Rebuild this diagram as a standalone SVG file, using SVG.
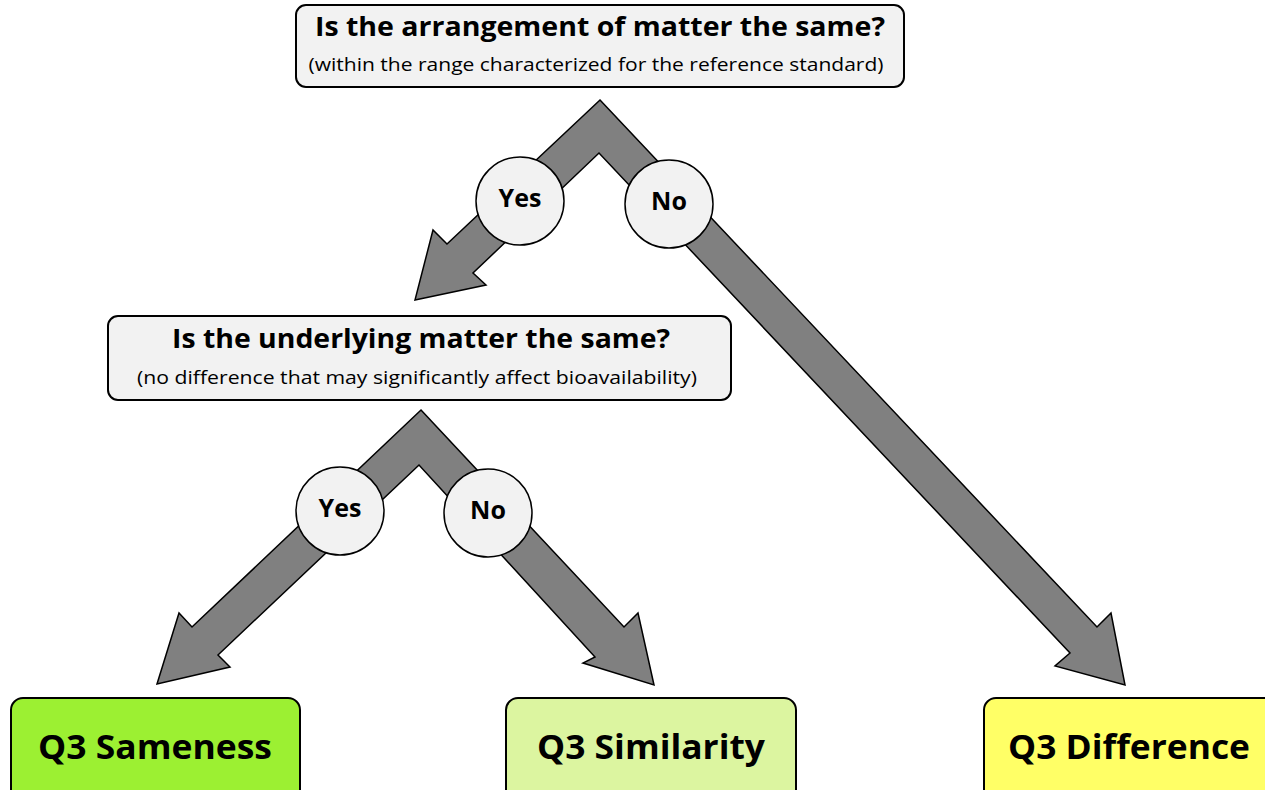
<svg xmlns="http://www.w3.org/2000/svg" width="1265" height="790" viewBox="0 0 1265 790">
<style>
.box{fill:#f2f2f2;stroke:#000;stroke-width:2}
.arrow{fill:#808080;stroke:#000;stroke-width:1.5;stroke-linejoin:miter}
.badge{fill:#f2f2f2;stroke:#000;stroke-width:1.5}
.t{font-family:"Open Sans","Liberation Sans",sans-serif;fill:#000;text-anchor:middle}
.title{font-weight:bold;font-size:27px}
.sub{font-size:19px}
.yn{font-weight:bold;font-size:25px}
.res{font-weight:bold;font-size:34px}
</style>
<rect width="1265" height="790" fill="#fff"/>
<g id="connectors">
  <polygon class="arrow" points="600,100 1097,627 1111,613 1125,685 1055,666 1070,653 599,153 473,273 486,285 415,300 433,230 447,244"/>
  <polygon class="arrow" points="421,410 624,627 638,613 654,685 583,663 595,657 419,465 218,655 230,667 157,684 179,613 192,627"/>
  <g id="label-yes-1"><circle class="badge" cx="520" cy="201" r="44"/><text class="t yn" x="520" y="207">Yes</text></g>
  <g id="label-no-1"><circle class="badge" cx="669" cy="204" r="44"/><text class="t yn" x="669" y="210">No</text></g>
  <g id="label-yes-2"><circle class="badge" cx="340" cy="511" r="44"/><text class="t yn" x="340" y="517">Yes</text></g>
  <g id="label-no-2"><circle class="badge" cx="488" cy="513" r="44"/><text class="t yn" x="488" y="519">No</text></g>
</g>
<g id="q-arrangement">
  <rect class="box" x="296" y="5" width="608" height="82" rx="10"/>
  <text class="t title" x="600" y="36" textLength="570" lengthAdjust="spacingAndGlyphs">Is the arrangement of matter the same?</text>
  <text class="t sub" x="596" y="71" textLength="575" lengthAdjust="spacingAndGlyphs">(within the range characterized for the reference standard)</text>
</g>
<g id="q-underlying">
  <rect class="box" x="108" y="316" width="623" height="84" rx="10"/>
  <text class="t title" x="421" y="348" textLength="498" lengthAdjust="spacingAndGlyphs">Is the underlying matter the same?</text>
  <text class="t sub" x="417" y="384" textLength="560" lengthAdjust="spacingAndGlyphs">(no difference that may significantly affect bioavailability)</text>
</g>
<g id="q3-sameness">
  <rect x="11" y="698" width="289" height="110" rx="12" fill="#9cf032" stroke="#000" stroke-width="2"/>
  <text class="t res" x="155" y="759" textLength="234" lengthAdjust="spacingAndGlyphs">Q3 Sameness</text>
</g>
<g id="q3-similarity">
  <rect x="506" y="698" width="290" height="110" rx="12" fill="#dcf5a0" stroke="#000" stroke-width="2"/>
  <text class="t res" x="651" y="759" textLength="228" lengthAdjust="spacingAndGlyphs">Q3 Similarity</text>
</g>
<g id="q3-difference">
  <rect x="984" y="698" width="300" height="110" rx="12" fill="#ffff66" stroke="#000" stroke-width="2"/>
  <text class="t res" x="1129" y="759" textLength="242" lengthAdjust="spacingAndGlyphs">Q3 Difference</text>
</g>
</svg>
